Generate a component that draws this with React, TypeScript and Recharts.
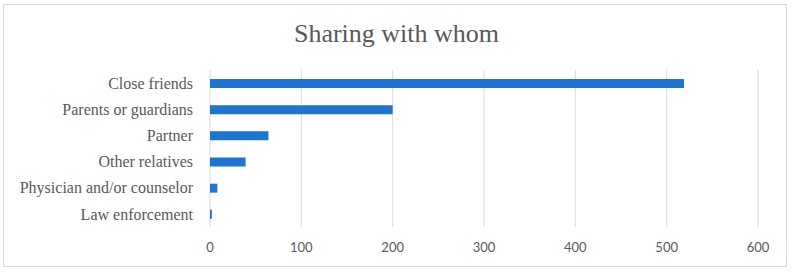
import React from 'react';
import { BarChart, Bar, XAxis, YAxis, CartesianGrid } from 'recharts';

const categories = [
  'Close friends',
  'Parents or guardians',
  'Partner',
  'Other relatives',
  'Physician and/or counselor',
  'Law enforcement',
];
const counts = [519, 200, 64, 39, 8, 2];
const xTicks = [0, 100, 200, 300, 400, 500, 600];
const title = 'Sharing with whom';

const data = categories.map((name, i) => ({ name, value: counts[i] }));

export default function App() {
  return (
    <div style={{ position: 'absolute', left: 0, top: 0, width: 793, height: 272, background: '#fff' }}>
      <div
        style={{
          position: 'absolute',
          left: 3,
          top: 4,
          width: 784,
          height: 263,
          border: '1px solid #d9d9d9',
          boxSizing: 'border-box',
        }}
      />
      <div
        style={{
          position: 'absolute',
          left: 0,
          top: 17,
          width: 793,
          textAlign: 'center',
          fontFamily: '"Liberation Serif", serif',
          fontSize: 26,
          color: '#595959',
          lineHeight: '34px',
        }}
      >
        {title}
      </div>
      <div style={{ position: 'absolute', left: 0, top: 0 }}>
        <BarChart
          width={793}
          height={272}
          data={data}
          layout="vertical"
          margin={{ top: 70, right: 35, bottom: 0, left: 0 }}
          barSize={9}
        >
          <CartesianGrid horizontal={false} stroke="#d9d9d9" />
          <XAxis
            type="number"
            domain={[0, 600]}
            ticks={xTicks}
            axisLine={false}
            tickLine={false}
            tickMargin={10}
            tick={{ fill: '#595959', fontSize: 13, fontFamily: 'Lato, sans-serif' }}
            height={45}
          />
          <YAxis
            type="category"
            dataKey="name"
            width={210}
            axisLine={false}
            tickLine={false}
            tickMargin={11}
            interval={0}
            tick={{ fill: '#595959', fontSize: 16, fontFamily: '"Liberation Serif", serif' }}
          />
          <Bar dataKey="value" fill="#1f74cd" isAnimationActive={false} />
        </BarChart>
      </div>
    </div>
  );
}
